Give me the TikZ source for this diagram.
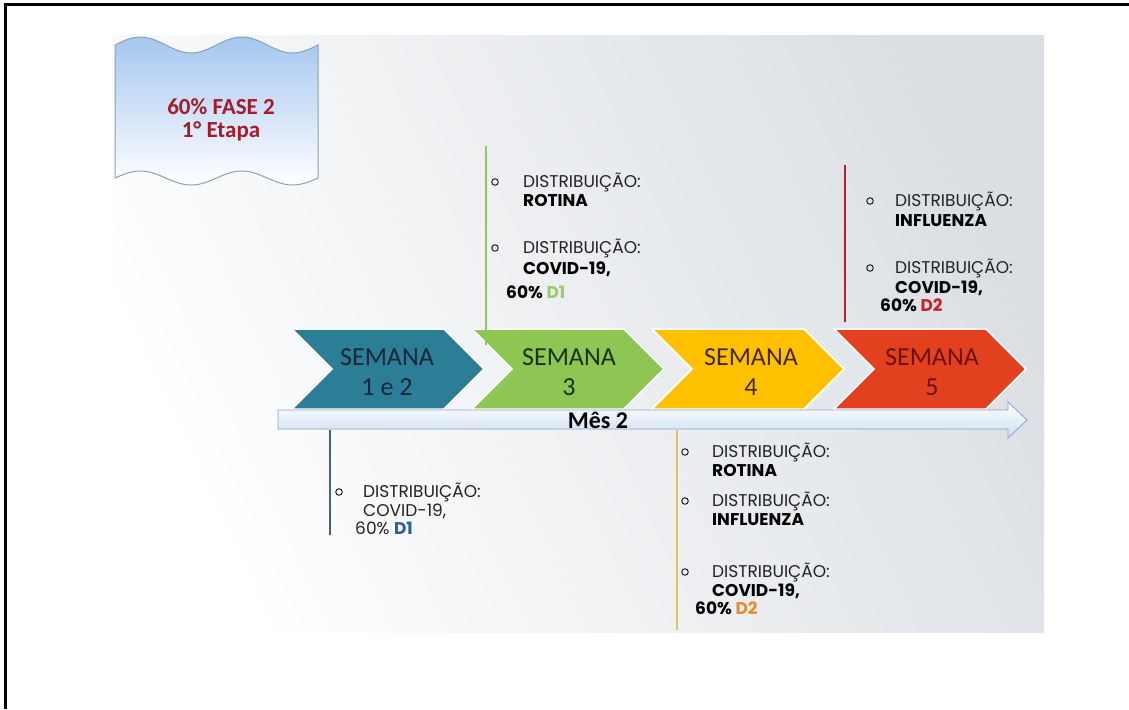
\documentclass[tikz,border=0pt]{standalone}
\usepackage{fontspec}
\setmainfont{Carlito}
\newfontfamily\gothic{Poppins}
\definecolor{bggray}{RGB}{219,223,228}
\definecolor{cteal}{RGB}{44,125,150}
\definecolor{cgreen}{RGB}{141,198,82}
\definecolor{cyellow}{RGB}{255,192,0}
\definecolor{cred}{RGB}{226,64,30}
\definecolor{tteal}{RGB}{22,40,58}
\definecolor{tgreen}{RGB}{25,50,15}
\definecolor{tyellow}{RGB}{70,40,10}
\definecolor{tred}{RGB}{105,18,18}
\definecolor{lblue}{RGB}{62,100,142}
\definecolor{lgreen}{RGB}{143,200,85}
\definecolor{lyellow}{RGB}{226,194,90}
\definecolor{lred}{RGB}{176,32,46}
\definecolor{dgreen}{RGB}{150,205,100}
\definecolor{dblue}{RGB}{45,95,150}
\definecolor{dorange}{RGB}{228,140,50}
\definecolor{dred}{RGB}{200,35,40}
\definecolor{bannertext}{RGB}{165,28,40}
\definecolor{bannerblue}{RGB}{165,198,240}
\definecolor{bannerline}{RGB}{140,160,185}
\definecolor{arrowblue}{RGB}{205,222,242}
\definecolor{arrowline}{RGB}{140,165,195}
\definecolor{txt}{RGB}{34,34,34}
\begin{document}
\begin{tikzpicture}[x=1pt,y=-1pt,
  semtext/.style={font=\fontsize{26}{30}\selectfont, align=center, inner sep=0pt},
  dist/.style={font=\gothic\fontsize{17}{18}\selectfont, text=txt, anchor=base west, inner sep=0pt},
  distb/.style={font=\gothic\bfseries\fontsize{17}{18}\selectfont, text=black, anchor=base west, inner sep=0pt},
  bul/.style={circle, draw=txt, line width=1pt, minimum size=6.5pt, inner sep=0pt},
  vline/.style={line width=2pt},
  chev/.style={draw=white, line width=1.5pt},
]
\useasboundingbox (0,0) rectangle (1129,709);
\fill[white] (0,0) rectangle (1129,709);
% background panel
\shade[left color=white, right color=bggray, shading angle=115] (112,36) rectangle (1044,632);
% frame
\draw[line width=3pt] (1129,5) -- (5,5) -- (5,709);
% banner (double wave)
\shade[top color=bannerblue, bottom color=white, draw=bannerline, line width=1pt]
  plot[domain=115:318, samples=80] (\x, {45-8*sin(3.5468*(\x-115))})
  -- plot[domain=318:115, samples=80] (\x, {178-7*sin(3.5468*(\x-115))})
  -- cycle;
\node[font=\bfseries\fontsize{23}{23}\selectfont, text=bannertext, align=center] (banner) at (221,120) {60\% FASE 2\\1° Etapa};
% chevrons
\foreach \L/\c in {292/cteal, 472/cgreen, 652/cyellow, 834/cred}
  \filldraw[chev, fill=\c] (\L,329) -- ++(152,0) -- ++(40,40) -- ++(-40,40) -- ++(-152,0) -- ++(40,-40) -- cycle;
\node[semtext, text=tteal] (s1) at (387,372) {SEMANA\\1 e 2};
\node[semtext, text=tgreen] (s2) at (569,372) {SEMANA\\3};
\node[semtext, text=tyellow] (s3) at (751,372) {SEMANA\\4};
\node[semtext, text=tred] (s4) at (932,372) {SEMANA\\5};
% month arrow
\shade[draw=arrowline, top color=white, bottom color=arrowblue, line width=0.8pt]
  (278,410) -- (1008,410) -- (1008,402) -- (1027,420) -- (1008,438) -- (1008,429) -- (278,429) -- cycle;
\node[font=\bfseries\fontsize{24}{24}\selectfont, text=black, inner sep=0pt] (mes) at (598,420) {Mês 2};
% vertical lines
\coordinate (g1) at (486,146); \coordinate (g2) at (486,345);
\coordinate (r1) at (845,165); \coordinate (r2) at (845,322);
\coordinate (b1) at (330,430); \coordinate (b2) at (330,535);
\coordinate (y1) at (677,430); \coordinate (y2) at (677,630);
\draw[vline, lgreen] (g1) -- (g2);
\draw[vline, lred] (r1) -- (r2);
\draw[vline, lblue] (b1) -- (b2);
\draw[vline, lyellow] (y1) -- (y2);
% green block
\node[bul] (gb1) at (495,182) {};
\node[dist] (gd1) at (523,187) {DISTRIBUIÇÃO:};
\node[distb] (gr1) at (523,206) {ROTINA};
\node[bul] (gb2) at (495,248) {};
\node[dist] (gd2) at (523,253) {DISTRIBUIÇÃO:};
\node[distb] (gc2) at (523,274) {COVID-19,};
\node[distb] (gp2) at (506,298) {60\% \textcolor{dgreen}{D1}};
% red block
\node[bul] (rb1) at (870,201) {};
\node[dist] (rd1) at (895,206) {DISTRIBUIÇÃO:};
\node[distb] (ri1) at (895,226) {INFLUENZA};
\node[bul] (rb2) at (870,268) {};
\node[dist] (rd2) at (895,273) {DISTRIBUIÇÃO:};
\node[distb] (rc2) at (895,293) {COVID-19,};
\node[distb] (rp2) at (880,311) {60\% \textcolor{dred}{D2}};
% blue block
\node[bul] (bb1) at (339,492) {};
\node[dist] (bd1) at (363,497) {DISTRIBUIÇÃO:};
\node[dist] (bc1) at (363,516) {COVID-19,};
\node[dist] (bp1) at (355,534) {60\% \textcolor{dblue}{\bfseries D1}};
% yellow block
\node[bul] (yb1) at (685,452) {};
\node[dist] (yd1) at (712,457) {DISTRIBUIÇÃO:};
\node[distb] (yr1) at (712,476) {ROTINA};
\node[bul] (yb2) at (685,501) {};
\node[dist] (yd2) at (712,506) {DISTRIBUIÇÃO:};
\node[distb] (yi2) at (712,525) {INFLUENZA};
\node[bul] (yb3) at (685,572) {};
\node[dist] (yd3) at (712,577) {DISTRIBUIÇÃO:};
\node[distb] (yc3) at (712,596) {COVID-19,};
\node[distb] (yp3) at (695,614) {60\% \textcolor{dorange}{D2}};
\end{tikzpicture}
\end{document}
